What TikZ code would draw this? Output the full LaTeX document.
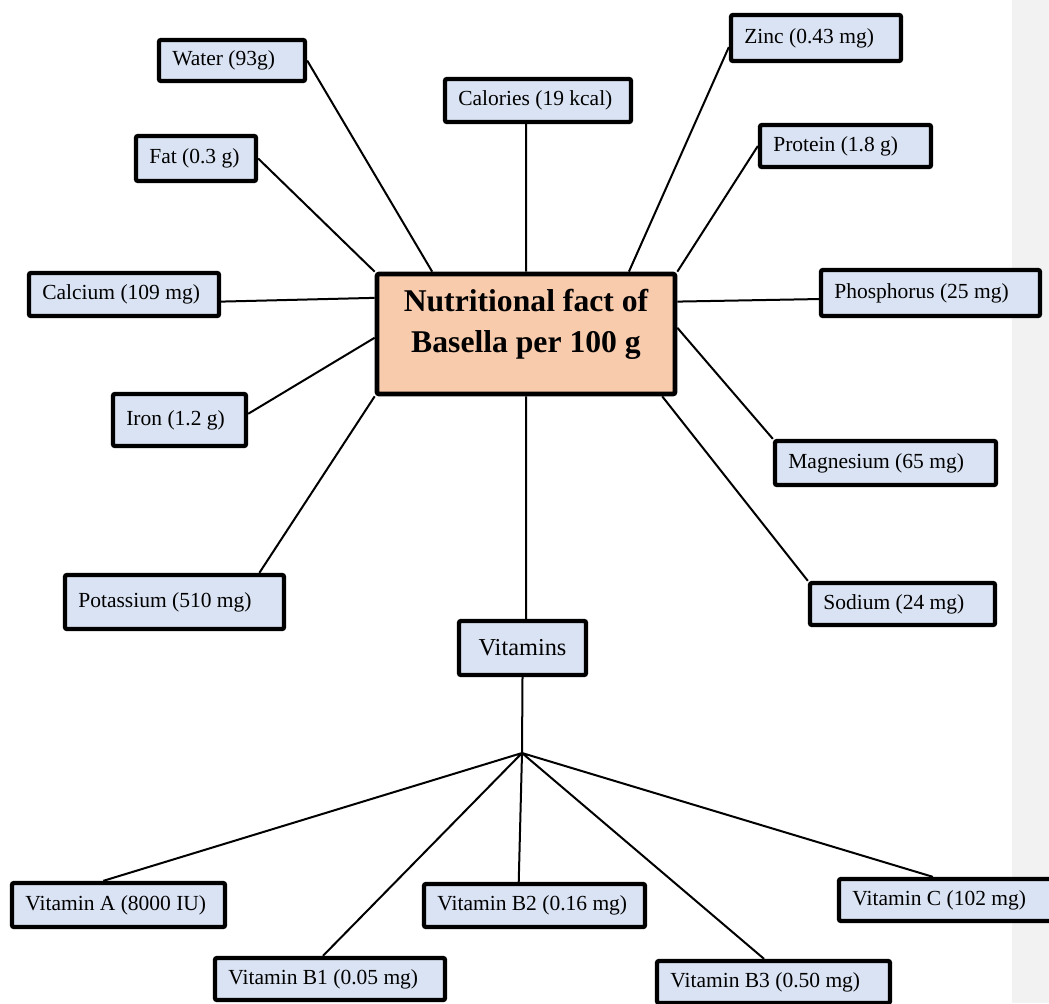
\documentclass[tikz,border=0pt]{standalone}
\usepackage{fontspec}
\setmainfont{Liberation Serif}
\usetikzlibrary{calc}

\definecolor{boxblue}{HTML}{DAE3F3}
\definecolor{hubfill}{HTML}{F8CBAD}
\definecolor{bandgray}{HTML}{F2F2F2}

\newcommand{\ib}{\node[infobox]}
\newcommand{\hb}{\node[hubbox]}

\tikzset{
  infobox/.style={draw, line width=2.6pt, fill=boxblue, rounded corners=1.2pt,
    inner xsep=8pt, inner ysep=2pt, align=flush left,
    font=\fontsize{12.9}{15}\selectfont},
  hubbox/.style={draw, line width=2.8pt, fill=hubfill, rounded corners=1.2pt},
  hubtext/.style={align=flush center, font=\fontsize{19}{24.6}\selectfont\bfseries},
  link/.style={line width=1.2pt}
}

\begin{document}
\begin{tikzpicture}[x=0.6pt, y=-0.6pt]
            \useasboundingbox (0,0) rectangle (1049,1003);
            \clip (0,0) rectangle (1049,1003);
            \fill[bandgray] (1012,0) rectangle (1049,1003);

            \hb[minimum width=178.8pt, minimum height=72pt,
                label={[hubtext, yshift=5.6pt]center:Nutritional fact of\\Basella per 100 g}]
                (hub) at (526,334) {};

            \ib[text width=71.6pt, minimum height=24.6pt] (water) at (232,60.5) {Water (93g)};
            \ib[text width=95.6pt, minimum height=25.8pt] (calories) at (538,100.5) {Calories (19 kcal)};
            \ib[text width=86pt, minimum height=27.6pt] (zinc) at (816,38) {Zinc (0.43 mg)};
            \ib[text width=56pt, minimum height=27pt] (fat) at (196,158.5) {Fat (0.3 g)};
            \ib[text width=86.6pt, minimum height=25.2pt] (protein) at (845.5,146) {Protein (1.8 g)};
            \ib[text width=98pt, minimum height=25.8pt] (calcium) at (124,294.5) {Calcium (109 mg)};
            \ib[text width=115.4pt, minimum height=27.6pt] (phosphorus) at (930.5,293) {Phosphorus (25 mg)};
            \ib[text width=63.8pt, minimum height=31.2pt] (iron) at (179.5,420) {Iron (1.2 g)};
            \ib[text width=116.6pt, minimum height=26.4pt] (magnesium) at (885.5,463) {Magnesium (65 mg)};
            \ib[text width=115.4pt, minimum height=32.4pt] (potassium) at (174.5,602) {Potassium (510 mg)};
            \ib[text width=95pt, minimum height=25.2pt] (sodium) at (902.5,604) {Sodium (24 mg)};

            \ib[align=center, minimum width=76.2pt, minimum height=32.4pt,
                font=\fontsize{14.6}{17}\selectfont] (vit) at (522.5,648) {Vitamins};

            \ib[text width=111.8pt, minimum height=26.4pt] (vita) at (118.5,905) {Vitamin A (8000 IU)};
            \ib[text width=122pt, minimum height=25.2pt] (vitbone) at (330,979) {Vitamin B1 (0.05 mg)};
            \ib[text width=116.6pt, minimum height=25.8pt] (vitbtwo) at (534.5,905.5) {Vitamin B2 (0.16 mg)};
            \ib[text width=123.8pt, minimum height=25.2pt] (vitbthree) at (773.5,982) {Vitamin B3 (0.50 mg)};
            \ib[text width=112.4pt, minimum height=25.2pt] (vitc) at (946,900) {Vitamin C (102 mg)};

            \coordinate (fork) at (522,753);

            % spokes round the centre box
            \draw[link]
                (water.east) -- ($(hub.north west)!0.19!(hub.north east)$)
                (hub.north) -- (hub.north |- calories.south)
                ($(zinc.north west)!0.68!(zinc.south west)$) -- ($(hub.north west)!0.84!(hub.north east)$)
                (fat.east) -- (hub.north west)
                (protein.west) -- (hub.north east)
                ($(calcium.north east)!0.65!(calcium.south east)$) -- ($(hub.north west)!0.21!(hub.south west)$)
                ($(hub.north east)!0.24!(hub.south east)$) -- ($(phosphorus.north west)!0.62!(phosphorus.south west)$)
                ($(iron.north east)!0.39!(iron.south east)$) -- ($(hub.north west)!0.53!(hub.south west)$)
                ($(hub.north east)!0.45!(hub.south east)$) -- (magnesium.north west)
                ($(potassium.north west)!0.88!(potassium.north east)$) -- (hub.south west)
                ($(hub.south west)!0.95!(hub.south east)$) -- (sodium.north west)
                (hub.south) -- (hub.south |- vit.north)
                ;

            % vitamin branches
            \draw[link]
                (vit.south) -- (fork)
                (fork) -- ($(vita.north west)!0.43!(vita.north east)$)
                (fork) -- ($(vitbone.north west)!0.47!(vitbone.north east)$)
                (fork) -- ($(vitbtwo.north west)!0.43!(vitbtwo.north east)$)
                (fork) -- ($(vitbthree.north west)!0.46!(vitbthree.north east)$)
                (fork) -- ($(vitc.north west)!0.44!(vitc.north east)$)
                ;
\end{tikzpicture}
\end{document}
